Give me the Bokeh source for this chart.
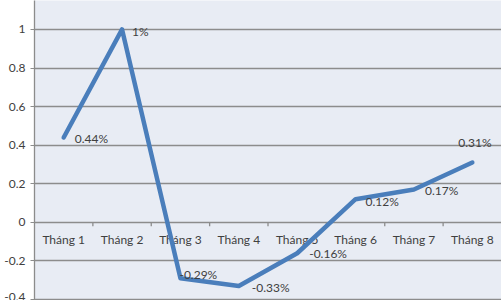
from bokeh.plotting import figure
from bokeh.models import ColumnDataSource, FactorRange, Range1d, FixedTicker, CustomJSTickFormatter
from bokeh.transform import dodge
from bokeh.core.properties import value
from bokeh.embed import file_html
from bokeh.resources import INLINE

categories = ["Tháng 1", "Tháng 2", "Tháng 3", "Tháng 4", "Tháng 5", "Tháng 6", "Tháng 7", "Tháng 8"]
values = [0.44, 1.0, -0.29, -0.33, -0.16, 0.12, 0.17, 0.31]
y_ticks = [-0.4, -0.2, 0, 0.2, 0.4, 0.6, 0.8, 1.0, 1.2]

labels = [f"{v:g}%" for v in values]
# label placement (pixels), styling only
label_dx = [11, 10, -1, 13, 12, 10, 11, -14]
label_dy = [1, 2, -4, 1, 0, 2, 1, -20]

FONT = "Lato"
TXT = "#404040"
GRID = "#8c8c8c"

p = figure(width=501, height=300, output_backend="svg", toolbar_location=None,
           x_range=FactorRange(factors=categories, range_padding=0),
           y_range=Range1d(-0.405, 1.15),
           min_border_left=34, min_border_right=0, min_border_top=0, min_border_bottom=0)
p.background_fill_color = "#E8ECF4"
p.border_fill_color = "white"
p.outline_line_color = None
p.xaxis.visible = False
p.xgrid.grid_line_color = None

yax = p.yaxis[0]
yax.ticker = FixedTicker(ticks=y_ticks)
yax.formatter = CustomJSTickFormatter(code="return (Math.round(tick*10)/10).toString();")
yax.major_tick_out = 4
yax.major_tick_in = 0
yax.minor_tick_line_color = None
yax.major_tick_line_color = GRID
yax.axis_line_color = GRID
yax.axis_line_width = 1.3
yax.major_label_standoff = 5
yax.major_label_text_font = FONT
yax.major_label_text_font_size = "12px"
yax.major_label_text_color = TXT

p.ygrid.ticker = FixedTicker(ticks=y_ticks)
p.ygrid.grid_line_color = GRID
p.ygrid.grid_line_width = 1.3

# category boundary ticks on the zero line
tick_src = ColumnDataSource(dict(x=categories[:-1], y0=[0] * (len(categories) - 1),
                                 y1=[-0.02] * (len(categories) - 1)))
p.segment(x0=dodge("x", 0.5, range=p.x_range), y0="y0",
          x1=dodge("x", 0.5, range=p.x_range), y1="y1",
          source=tick_src, line_color=GRID, line_width=1.3)

# category labels just below zero line
cat_src = ColumnDataSource(dict(x=categories, y=[0] * len(categories), t=categories))
p.text(x="x", y="y", text="t", source=cat_src, y_offset=17,
       text_align="center", text_baseline="middle",
       text_font=value(FONT), text_font_size="12px", text_color=TXT)

src = ColumnDataSource(dict(x=categories, y=values, t=labels, dx=label_dx, dy=label_dy))
p.line(x="x", y="y", source=src, line_color="#4A7EBB", line_width=4.5,
       line_join="round", line_cap="round")
p.text(x="x", y="y", text="t", source=src, x_offset="dx", y_offset="dy",
       text_align="left", text_baseline="middle",
       text_font=value(FONT), text_font_size="12px", text_color=TXT)

open("out.html", "w").write(file_html(p, INLINE))
